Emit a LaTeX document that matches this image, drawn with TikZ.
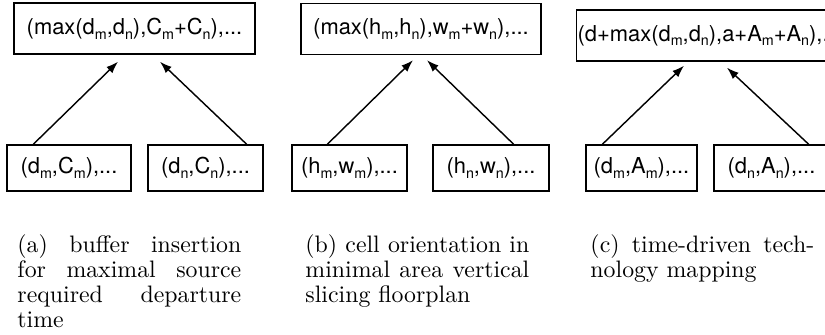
\documentclass[tikz,border=0pt]{standalone}
\usepackage{fontspec}
\usetikzlibrary{arrows.meta, positioning}
\newfontfamily\heros{TeX Gyre Heros}
\newcommand{\boxfont}{\heros\fontsize{9.2}{11}\selectfont}
\newcommand{\capfont}{\fontsize{10}{10.5}\selectfont}
\newcommand{\lowidx}[1]{\raisebox{-0.22em}{\fontsize{6}{6}\selectfont #1}}
\tikzset{
  topbox/.style={
    rectangle, draw, line width=0.6pt,
    minimum width=100.8pt, minimum height=21.4pt,
    inner xsep=1pt, font=\boxfont
  },
  leafbox/.style={
    rectangle, draw, line width=0.6pt,
    minimum width=48.3pt, minimum height=19.3pt,
    inner xsep=1pt, font=\boxfont
  },
  capt/.style={
    anchor=north west, inner sep=0pt,
    text width=94pt, align=justify, font=\capfont
  },
  arr/.style={-{Latex[length=5pt, width=3.6pt]}, line width=0.6pt}
}

\begin{document}
\begin{tikzpicture}[x=0.42pt, y=-0.42pt]

  \useasboundingbox (0,0) rectangle (825,334);
  \clip (0,0) rectangle (825,334);

  % ── (a) buffer insertion ───────────────────────────────────────
  \node[topbox, minimum width=101.2pt] (a) at (134.5,28.5)
    {(max(d\lowidx{m},d\lowidx{n}),C\lowidx{m}+C\lowidx{n}),...};
  \node[leafbox, minimum width=52.1pt] (al) at (69,168)
    {(d\lowidx{m},C\lowidx{m}),...};
  \node[leafbox] (ar) at (205.5,168)
    {(d\lowidx{n},C\lowidx{n}),...};

  % ── (b) cell orientation ───────────────────────────────────────
  \node[topbox] (b) at (421,29)
    {(max(h\lowidx{m},h\lowidx{n}),w\lowidx{m}+w\lowidx{n}),...};
  \node[leafbox] (bl) at (349.5,168)
    {(h\lowidx{m},w\lowidx{m}),...};
  \node[leafbox, minimum width=48.7pt] (br) at (491,168)
    {(h\lowidx{n},w\lowidx{n}),...};

  % ── (c) technology mapping ─────────────────────────────────────
  \node[topbox, anchor=west, inner xsep=0.4pt] (c) at (576,35.5)
    {(d+max(d\lowidx{m},d\lowidx{n}),a+A\lowidx{m}+A\lowidx{n}),...};
  \node[leafbox, minimum width=46.6pt] (cl) at (641.5,168)
    {(d\lowidx{m},A\lowidx{m}),...};
  \node[leafbox] (cr) at (771.5,168)
    {(d\lowidx{n},A\lowidx{n}),...};

  % ── Arrows (leaf -> parent) ────────────────────────────────────
  \draw[arr] ([shift={(27,0)}]al.north west)  -- ([shift={(-16.5,7)}]a.south);
  \draw[arr] ([shift={(-17,0)}]ar.north east) -- ([shift={(25.5,7)}]a.south);
  \draw[arr] ([shift={(36,0)}]bl.north west)  -- ([shift={(-8,5)}]b.south);
  \draw[arr] ([shift={(-36,0)}]br.north east) -- ([shift={(6,5)}]b.south);
  \draw[arr] ([shift={(17,0)}]cl.north west)  -- ([shift={(108,4)}]c.south west);
  \draw[arr] ([shift={(-21,0)}]cr.north east) -- ([shift={(151,6)}]c.south west);

  % ── Captions ───────────────────────────────────────────────────
  \node[capt] (capa) at (17,234)
    {(a) buffer insertion\linebreak for maximal source\linebreak
     required departure\linebreak time};
  \node[capt] (capb) at (305,234)
    {(b) cell orientation in\linebreak minimal area vertical\linebreak
     slicing floorplan};
  \node[capt] (capc) at (590,234)
    {(c) time-driven tech-\linebreak nology mapping};

\end{tikzpicture}
\end{document}
